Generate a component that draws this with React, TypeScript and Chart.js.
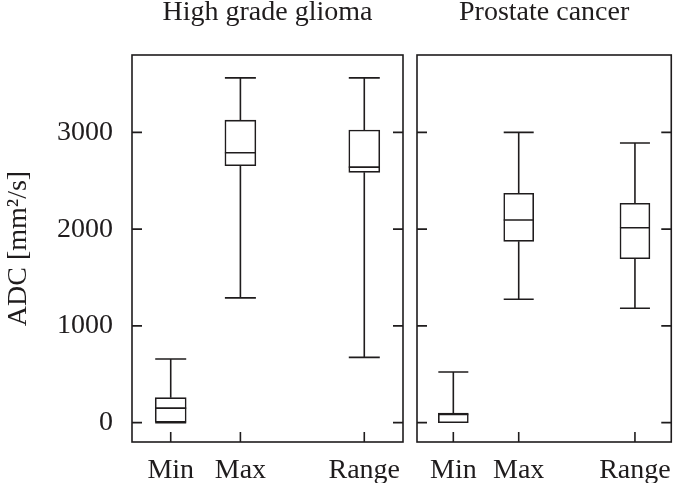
import React, { useEffect, useRef } from 'react';
import { Chart, registerables } from 'chart.js';

Chart.register(...registerables);

// ---- data ----
const categories = ['Min', 'Max', 'Range'];
const xPositions = [1, 2.8, 6];
const yTicks = [0, 1000, 2000, 3000];
const panelTitles = ['High grade glioma', 'Prostate cancer'];
const yAxisTitle = 'ADC [mm\u00B2/s]';

const gliomaWhiskerLow = [0, 1290, 675];
const gliomaQ1 = [5, 2655, 2587];
const gliomaMedian = [150, 2790, 2641];
const gliomaQ3 = [258, 3127, 3024];
const gliomaWhiskerHigh = [658, 3564, 3564];

const prostateWhiskerLow = [0, 1275, 1182];
const prostateQ1 = [0, 1874, 1694];
const prostateMedian = [85, 2094, 2015];
const prostateQ3 = [100, 2370, 2267];
const prostateWhiskerHigh = [524, 3000, 2890];

const INK = '#1f1c1d';
const FONT_FAMILY = "'Liberation Serif', 'Times New Roman', serif";
const FONT_SIZE = 28;
const LINE_W = 1.6;

type PanelProps = {
  left: number;
  width: number;
  height: number;
  padLeft: number;
  padRight: number;
  showY: boolean;
  title: string;
  low: number[];
  q1: number[];
  med: number[];
  q3: number[];
  high: number[];
  barPx: number;
};

function Panel(p: PanelProps) {
  const ref = useRef<HTMLCanvasElement | null>(null);

  useEffect(() => {
    if (!ref.current) return;
    const half = p.barPx / 2;

    const boxPlugin = {
      id: 'boxWhiskers',
      afterDatasetsDraw(chart: any) {
        const ctx = chart.ctx as CanvasRenderingContext2D;
        const xs = chart.scales.x;
        const ys = chart.scales.y;
        ctx.save();
        ctx.strokeStyle = INK;
        ctx.lineWidth = LINE_W;
        ctx.lineCap = 'butt';
        xPositions.forEach((xv, i) => {
          const cx = xs.getPixelForValue(xv);
          const yLow = ys.getPixelForValue(p.low[i]);
          const yQ1 = ys.getPixelForValue(p.q1[i]);
          const yMed = ys.getPixelForValue(p.med[i]);
          const yQ3 = ys.getPixelForValue(p.q3[i]);
          const yHigh = ys.getPixelForValue(p.high[i]);
          ctx.beginPath();
          ctx.moveTo(cx, yQ3);
          ctx.lineTo(cx, yHigh);
          ctx.moveTo(cx - half, yHigh);
          ctx.lineTo(cx + half, yHigh);
          if (p.low[i] < p.q1[i]) {
            ctx.moveTo(cx, yQ1);
            ctx.lineTo(cx, yLow);
            ctx.moveTo(cx - half, yLow);
            ctx.lineTo(cx + half, yLow);
          }
          ctx.moveTo(cx - half, yMed);
          ctx.lineTo(cx + half, yMed);
          ctx.stroke();
        });
        ctx.restore();
      },
      afterDraw(chart: any) {
        const ctx = chart.ctx as CanvasRenderingContext2D;
        const a = chart.chartArea;
        const xs = chart.scales.x;
        const ys = chart.scales.y;
        ctx.save();
        ctx.strokeStyle = INK;
        ctx.lineWidth = LINE_W;
        ctx.strokeRect(a.left, a.top, a.right - a.left, a.bottom - a.top);
        const tl = 10;
        ctx.beginPath();
        yTicks.forEach((v) => {
          const y = ys.getPixelForValue(v);
          ctx.moveTo(a.left, y);
          ctx.lineTo(a.left + tl, y);
          ctx.moveTo(a.right, y);
          ctx.lineTo(a.right - tl, y);
        });
        xPositions.forEach((v) => {
          const x = xs.getPixelForValue(v);
          ctx.moveTo(x, a.bottom);
          ctx.lineTo(x, a.bottom - tl);
        });
        ctx.stroke();
        ctx.fillStyle = INK;
        ctx.font = `${FONT_SIZE}px ${FONT_FAMILY}`;
        ctx.textAlign = 'center';
        ctx.textBaseline = 'alphabetic';
        ctx.fillText(p.title, (a.left + a.right) / 2, 20);
        ctx.restore();
      },
    };

    const font = { family: FONT_FAMILY, size: FONT_SIZE };

    const chart = new Chart(ref.current, {
      type: 'bar',
      data: {
        datasets: [
          {
            data: xPositions.map((x, i) => ({ x, y: [p.q1[i], p.q3[i]] })) as any,
            backgroundColor: '#ffffff',
            borderColor: INK,
            borderWidth: LINE_W,
            borderSkipped: false,
            barThickness: p.barPx,
          },
        ],
      },
      options: {
        responsive: false,
        animation: false,
        devicePixelRatio: 1,
        layout: {
          autoPadding: false,
          padding: { top: 55, left: p.padLeft, right: p.padRight, bottom: 0 },
        },
        plugins: {
          legend: { display: false },
          tooltip: { enabled: false },
          title: { display: false },
        },
        scales: {
          x: {
            type: 'linear',
            min: 0,
            max: 7,
            offset: false,
            grid: { display: false },
            border: { display: false },
            afterBuildTicks: (s: any) => {
              s.ticks = xPositions.map((v) => ({ value: v }));
            },
            afterFit: (s: any) => {
              s.height = 41;
            },
            ticks: {
              autoSkip: false,
              maxRotation: 0,
              padding: 4,
              color: INK,
              font,
              callback: (_v: any, i: number) => categories[i],
            },
          },
          y: {
            type: 'linear',
            min: -200,
            max: 3800,
            display: p.showY,
            grid: { display: false },
            border: { display: false },
            afterBuildTicks: (s: any) => {
              s.ticks = yTicks.map((v) => ({ value: v }));
            },
            afterFit: (s: any) => {
              s.width = p.showY ? 132 : 0;
            },
            ticks: {
              padding: 11,
              color: INK,
              font,
              callback: (v: any) => String(v),
            },
            title: {
              display: p.showY,
              text: yAxisTitle,
              color: INK,
              font,
              padding: { top: 2, bottom: 0 },
            },
          },
        },
      } as any,
      plugins: [boxPlugin],
    });
    return () => chart.destroy();
  }, []);

  return (
    <canvas
      ref={ref}
      width={p.width}
      height={p.height}
      style={{ position: 'absolute', left: p.left, top: 0, width: p.width, height: p.height }}
    />
  );
}

export default function App() {
  return (
    <div style={{ position: 'absolute', left: 0, top: 0, width: 675, height: 483, background: '#fff' }}>
      <Panel
        left={0}
        width={410}
        height={483}
        padLeft={0}
        padRight={7}
        showY={true}
        title={panelTitles[0]}
        low={gliomaWhiskerLow}
        q1={gliomaQ1}
        med={gliomaMedian}
        q3={gliomaQ3}
        high={gliomaWhiskerHigh}
        barPx={31}
      />
      <Panel
        left={410}
        width={265}
        height={483}
        padLeft={7}
        padRight={2}
        showY={false}
        title={panelTitles[1]}
        low={prostateWhiskerLow}
        q1={prostateQ1}
        med={prostateMedian}
        q3={prostateQ3}
        high={prostateWhiskerHigh}
        barPx={30}
      />
    </div>
  );
}
